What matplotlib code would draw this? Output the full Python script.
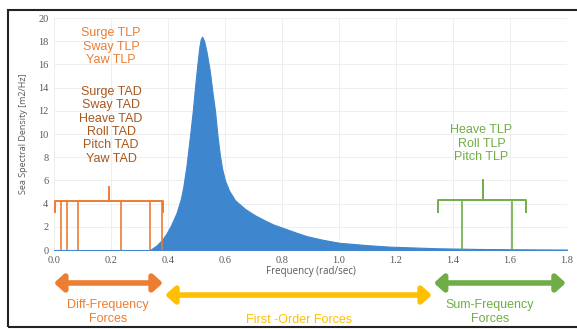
import numpy as np
import matplotlib
matplotlib.use("Agg")
import matplotlib.pyplot as plt
from matplotlib.patches import Rectangle

### sea spectrum
freq = [0.0, 0.30, 0.337, 0.36, 0.38, 0.395, 0.41, 0.43, 0.445, 0.454, 0.465,
        0.477, 0.487, 0.495, 0.503, 0.51, 0.515, 0.52, 0.527, 0.536, 0.547,
        0.556, 0.565, 0.573, 0.582, 0.59, 0.60, 0.615, 0.635, 0.67, 0.705,
        0.74, 0.77, 0.81, 0.85, 0.887, 0.94, 1.0, 1.1, 1.18, 1.35, 1.5, 1.65, 1.8]
dens = [0.0, 0.0, 0.0, 0.4, 0.9, 1.44, 2.1, 3.2, 4.4, 5.5, 7.3,
        9.8, 12.0, 14.1, 16.0, 17.5, 18.2, 18.4, 18.0, 17.0, 15.4,
        13.6, 12.0, 10.0, 8.2, 7.0, 6.0, 5.1, 4.3, 3.55, 3.0,
        2.55, 2.2, 1.85, 1.5, 1.2, 0.9, 0.63, 0.42, 0.29, 0.15, 0.09, 0.06, 0.04]

### natural frequencies (vertical markers)
diff_freqs = [0.025, 0.045, 0.085, 0.234, 0.337, 0.378]
sum_freqs = [1.433, 1.606]

tlp_low = "Surge TLP\nSway TLP\nYaw TLP"
tad_low = "Surge TAD\nSway TAD\nHeave TAD\nRoll TAD\nPitch TAD\nYaw TAD"
tlp_high = "Heave TLP\nRoll TLP\nPitch TLP"

c_orange = "#ED7D31"
c_brown = "#A8581E"
c_yellow = "#FFC000"
c_green = "#70AD47"
c_blue = "#3E87CF"
c_tick = "#595959"

fig = plt.figure(figsize=(5.77, 3.29), dpi=100)
ax = fig.add_axes([0.0936, 0.240, 0.889, 0.705])

ax.fill_between(freq, dens, color=c_blue, lw=0.8, edgecolor=c_blue)
ax.set_xlim(0, 1.8)
ax.set_ylim(0, 20)
ax.set_xticks(np.arange(0, 1.81, 0.2))
ax.set_xticklabels(["%.1f" % v for v in np.arange(0, 1.81, 0.2)])
ax.set_yticks(range(0, 21, 2))
for s in ax.spines.values():
    s.set_visible(False)
ax.grid(True, color="#EEEEEE", lw=0.7)
ax.set_axisbelow(True)
ax.tick_params(length=0, colors=c_tick, labelsize=7.5, pad=4)
for lab in ax.get_xticklabels() + ax.get_yticklabels():
    lab.set_family("Liberation Serif")
ax.set_xlabel("Frequency (rad/sec)", fontsize=7, color=c_tick, labelpad=1,
              family="Open Sans")
ax.set_ylabel("Sea Spectral Density [m2/Hz]", fontsize=6.5, color=c_tick,
              labelpad=7, family="Open Sans")


def bracket(x0, x1, xm, ytop, yend, ystem, col, lines):
    ax.plot([x0, x0, x1, x1], [yend, ytop, ytop, yend], color=col, lw=1.4)
    ax.plot([xm, xm], [ytop, ystem], color=col, lw=1.4)
    for f in lines:
        ax.plot([f, f], [0, ytop - 0.15], color=col, lw=1.2)


bracket(0.004, 0.382, 0.193, 4.25, 3.3, 5.45, c_orange, diff_freqs)
bracket(1.347, 1.658, 1.504, 4.3, 3.3, 6.0, c_green, sum_freqs)

tf = dict(family="Liberation Sans", fontsize=9, ha="center", va="top",
          linespacing=1.15, fontweight="medium")
ax.text(0.2, 19.2, tlp_low, color=c_orange, **tf)
ax.text(0.2, 14.15, tad_low, color=c_brown, **tf)
ax.text(1.5, 10.85, tlp_high, color=c_green, **tf)

### force ranges below the axis
def span_arrow(x0, x1, y, col):
    ax.annotate("", xy=(x1, y), xytext=(x0, y), annotation_clip=False,
                arrowprops=dict(arrowstyle="<|-|>,head_length=0.55,head_width=0.5",
                                color=col, lw=4, shrinkA=0, shrinkB=0))


span_arrow(0.0, 0.382, -2.84, c_orange)
span_arrow(0.39, 1.326, -3.88, c_yellow)
span_arrow(1.333, 1.796, -2.84, c_green)

bf = dict(family="Liberation Sans", fontsize=9, ha="center", va="top",
          linespacing=1.2, clip_on=False)
ax.text(0.19, -4.25, "Diff-Frequency\nForces", color=c_orange, **bf)
ax.text(0.86, -5.5, "First -Order Forces", color=c_yellow, **bf)
ax.text(1.53, -4.25, "Sum-Frequency\nForces", color=c_green, **bf)

### border around the figure
fig.patches.append(Rectangle((8 / 577, 2 / 329), 1.0, 317 / 329,
                             transform=fig.transFigure, fill=False,
                             edgecolor="#222222", lw=1.5))

fig.savefig("out.png", dpi=100)
